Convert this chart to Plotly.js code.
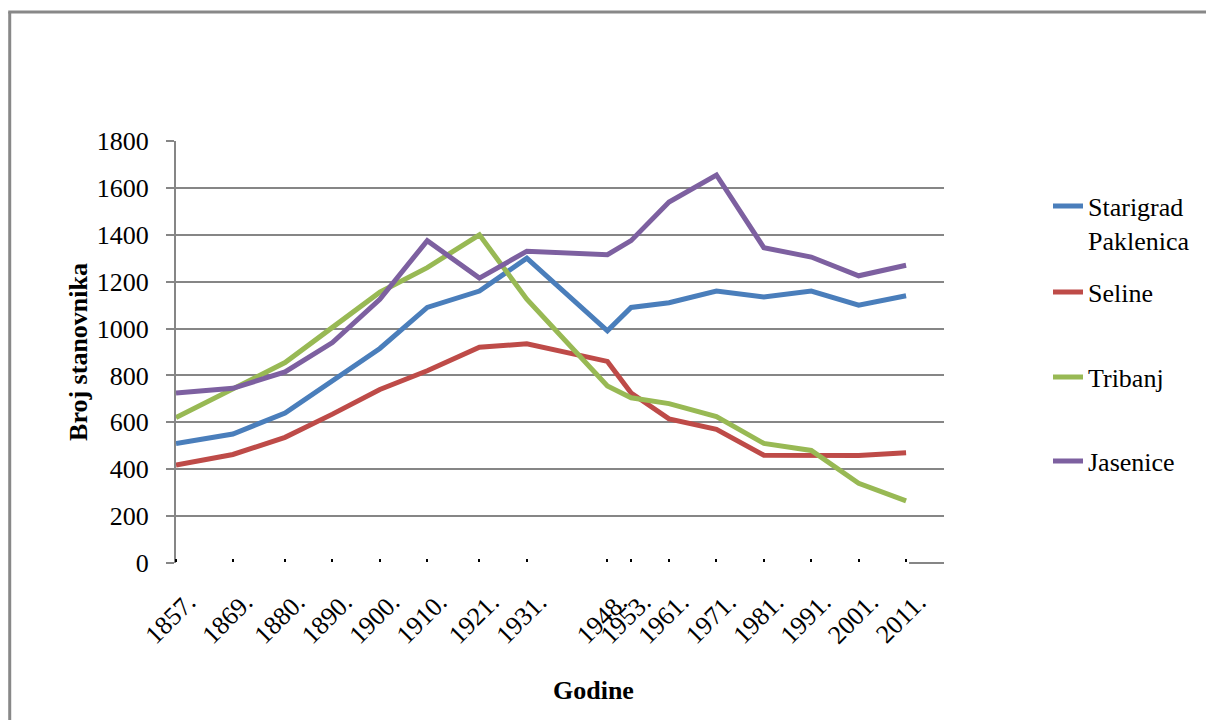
<!DOCTYPE html>
<html>
<head>
<meta charset="utf-8">
<script src="https://cdn.plot.ly/plotly-3.0.1.min.js"></script>
<style>
  html, body { margin: 0; padding: 0; background: #ffffff; }
  #chart { width: 1206px; height: 720px; }
</style>
</head>
<body>
<div id="chart"></div>
<script>
// ---- data ----
const years = [1857, 1869, 1880, 1890, 1900, 1910, 1921, 1931, 1948, 1953, 1961, 1971, 1981, 1991, 2001, 2011];
const yearLabels = years.map(y => y + '.');
const starigrad = [510, 550, 640, 780, 915, 1090, 1160, 1300, 990, 1090, 1110, 1160, 1135, 1160, 1100, 1140];
const seline    = [418, 463, 536, 635, 740, 820, 920, 935, 860, 725, 615, 570, 460, 460, 458, 470];
const tribanj   = [620, 745, 855, 1005, 1155, 1260, 1400, 1125, 755, 705, 680, 625, 510, 480, 340, 265];
const jasenice  = [725, 745, 815, 940, 1125, 1375, 1215, 1330, 1315, 1375, 1540, 1655, 1345, 1305, 1225, 1270];
const seriesNames = ['Starigrad<br>Paklenica', 'Seline', 'Tribanj', 'Jasenice'];
const yTicks = [0, 200, 400, 600, 800, 1000, 1200, 1400, 1600, 1800];

// ---- layout geometry ----
const W = 1206, H = 720;
const M = { l: 176, r: 261, t: 141, b: 157 };
const plotW = W - M.l - M.r, plotH = H - M.t - M.b;
const px2x = px => (px - M.l) / plotW;
const py2y = py => (H - M.b - py) / plotH;

const colors = ['#4A7EBB', '#BE4B48', '#98B954', '#7D60A0'];
const seriesData = [starigrad, seline, tribanj, jasenice];
const legendIds = ['legend', 'legend2', 'legend3', 'legend4'];

const traces = seriesData.map((vals, i) => ({
  type: 'scatter',
  mode: 'lines',
  x: years,
  y: vals,
  name: seriesNames[i],
  line: { color: colors[i], width: 5 },
  legend: legendIds[i],
  xaxis: 'x', yaxis: 'y'
}));

const font = { family: 'Liberation Serif, Times New Roman, serif', size: 26, color: '#000000' };
const gray = '#868686';

const legendY = [py2y(223), py2y(292), py2y(377), py2y(461)];
function mkLegend(i) {
  return {
    x: px2x(1048), xanchor: 'left',
    y: legendY[i], yanchor: 'middle',
    font: font, bgcolor: 'rgba(0,0,0,0)', borderwidth: 0,
    valign: 'top', itemwidth: 30
  };
}

const layout = {
  width: W, height: H,
  margin: M,
  paper_bgcolor: '#ffffff',
  plot_bgcolor: '#ffffff',
  font: font,
  showlegend: true,
  legend: mkLegend(0),
  legend2: mkLegend(1),
  legend3: mkLegend(2),
  legend4: mkLegend(3),
  xaxis: {
    type: 'linear',
    range: [1857, 2019],
    tickmode: 'array',
    tickvals: years,
    ticktext: yearLabels,
    tickangle: -45,
    tickfont: font,
    ticks: 'outside', ticklen: 3, tickwidth: 2, tickcolor: '#000000',
    showgrid: false, zeroline: false, showline: false,
    anchor: 'free', position: (563 - 557.5) / plotH,
    ticklabelstandoff: 15,
    ticklabelshift: 12,
    automargin: false
  },
  yaxis: {
    range: [0, 1800],
    tickmode: 'array',
    tickvals: yTicks,
    tickfont: font,
    ticks: 'outside', ticklen: 8, tickwidth: 2, tickcolor: gray,
    showgrid: true, gridcolor: gray, gridwidth: 2,
    zeroline: false,
    showline: true, linecolor: gray, linewidth: 2,
    ticklabelstandoff: 12,
    automargin: false,
    title: { text: '<b>Broj stanovnika</b>', font: font, standoff: 2 }
  },
  annotations: [{
    text: '<b>Godine</b>', font: font,
    xref: 'paper', yref: 'paper',
    x: px2x(594), y: py2y(690),
    xanchor: 'center', yanchor: 'middle',
    showarrow: false
  }],
  shapes: [
    // short axis segment at the right end of the category axis
    { type: 'line', xref: 'paper', yref: 'paper', x0: px2x(910), x1: 1, y0: 0, y1: 0,
      line: { color: gray, width: 2 } },
    // outer chart frame (left and top border)
    { type: 'line', xref: 'paper', yref: 'paper', x0: px2x(9.5), x1: px2x(9.5), y0: py2y(12), y1: py2y(730),
      line: { color: '#888888', width: 3 } },
    { type: 'line', xref: 'paper', yref: 'paper', x0: px2x(8), x1: px2x(1220), y0: py2y(12), y1: py2y(12),
      line: { color: '#888888', width: 3 } }
  ]
};

Plotly.newPlot('chart', traces, layout, { displayModeBar: false, staticPlot: true });
</script>
</body>
</html>
